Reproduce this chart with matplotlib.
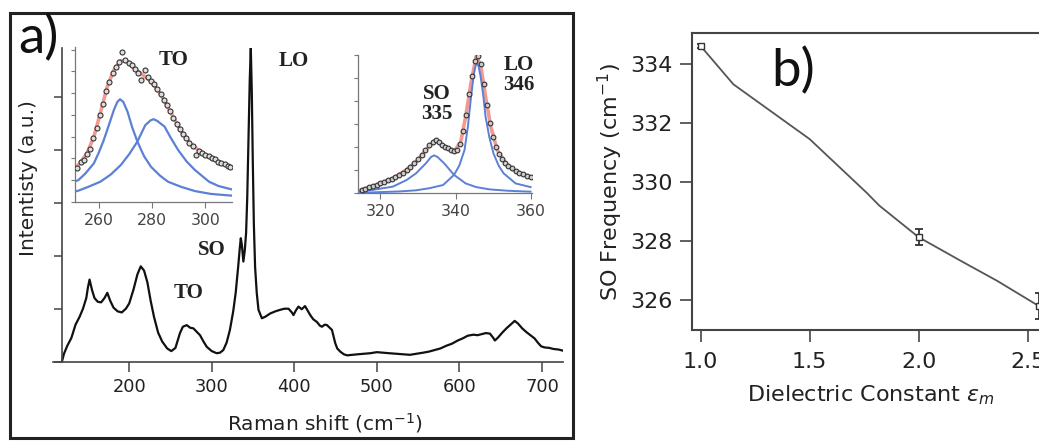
import matplotlib
matplotlib.use("Agg")
import matplotlib.pyplot as plt
from matplotlib.patches import Rectangle

W, H = 1039, 441

# ---- panel a: main Raman spectrum (shift, intensity in tick units)
raman_shift = [118.5, 121, 125, 130, 135, 140, 144, 148, 150, 152, 155, 158, 162, 166,
               170, 173.5, 177, 181, 186, 191, 196, 200, 205, 210, 214, 218, 222, 226,
               230, 235, 240, 246, 251, 256, 261.5, 265, 269.7, 274, 277.7, 282, 285.8,
               290, 294, 300, 306, 310, 314, 318, 322, 326, 329, 332, 334, 335.2, 336.5,
               338.3, 340, 341.6, 343, 344.5, 346, 347.3, 348.5, 349.7, 351, 352.5, 354.5,
               356.6, 360.7, 365, 370.8, 377, 383, 388, 393, 397, 399, 402, 405, 409, 413,
               416, 419.3, 423, 427.4, 431, 433.5, 437, 439.6, 443, 445.6, 447.5, 449.6,
               452, 455.7, 460, 464, 470, 477, 484, 492, 500, 507, 515, 523, 531, 540,
               548, 556, 563, 570, 577, 584, 591, 598, 604, 610, 617, 622, 627, 632, 637,
               641, 643, 647, 652, 657, 662, 667, 671, 676, 681, 686, 691, 695, 699, 703,
               709, 714, 720, 725]
intensity = [0.0, 0.15, 0.3, 0.45, 0.7, 0.85, 1.0, 1.2, 1.4, 1.55, 1.35, 1.2, 1.13, 1.12,
             1.2, 1.3, 1.15, 1.02, 0.95, 0.93, 1.0, 1.1, 1.35, 1.65, 1.8, 1.72, 1.5, 1.15,
             0.85, 0.55, 0.38, 0.25, 0.2, 0.26, 0.54, 0.66, 0.69, 0.64, 0.63, 0.56, 0.5,
             0.38, 0.28, 0.2, 0.16, 0.17, 0.22, 0.36, 0.6, 0.95, 1.3, 1.79, 2.15, 2.33, 2.2,
             1.89, 2.1, 2.43, 3.1, 4.2, 5.3, 5.92, 5.1, 3.8, 2.6, 1.79, 1.3,
             0.98, 0.82, 0.85, 0.91, 0.95, 0.98, 1.0, 1.0, 0.93, 0.88, 0.97, 1.04, 0.99, 1.05,
             0.97, 0.88, 0.8, 0.75, 0.68, 0.66, 0.7, 0.69, 0.64, 0.6, 0.48, 0.35,
             0.25, 0.19, 0.14, 0.12, 0.13, 0.14, 0.15, 0.16, 0.18, 0.17, 0.16, 0.15, 0.14, 0.13,
             0.15, 0.17, 0.19, 0.22, 0.25, 0.3, 0.34, 0.4, 0.44, 0.49, 0.51, 0.5, 0.52, 0.54, 0.53,
             0.45, 0.4, 0.46, 0.55, 0.63, 0.7, 0.77, 0.72, 0.63, 0.56, 0.5, 0.44, 0.36, 0.29, 0.27,
             0.26, 0.24, 0.23, 0.21]
main_xticks = [200, 300, 400, 500, 600, 700]
main_yticks = [0, 1, 2, 3, 4, 5]

# ---- inset 1: TO region
to_data_x = [252.0, 253.2, 254.4, 255.6, 256.8, 258.0, 259.2, 260.4, 261.6, 262.8, 264.0,
             265.2, 266.4, 267.6, 268.8, 270.0, 271.2, 272.4, 273.6, 274.8, 276.0, 277.2,
             278.4, 279.6, 280.8, 282.0, 283.2, 284.4, 285.6, 286.8, 288.0, 289.2, 290.4,
             291.6, 292.8, 294.0, 295.2, 296.4, 297.6, 298.8, 300.0, 301.2, 302.4, 303.6,
             304.8, 306.0, 307.2, 308.4, 309.4]
to_data_y = [1.55, 1.85, 1.9, 2.2, 2.45, 2.95, 3.4, 4.0, 4.5, 5.1, 5.5, 5.95, 6.2, 6.45,
             6.9, 6.55, 6.4, 6.3, 6.1, 5.95, 5.6, 6.05, 5.75, 5.55, 5.4, 5.2, 4.95, 4.7,
             4.45, 4.2, 3.85, 3.6, 3.35, 3.1, 2.95, 2.7, 2.55, 2.15, 2.35, 2.25, 2.15, 2.1,
             2.0, 1.95, 1.85, 1.78, 1.72, 1.65, 1.6]
to_fit_x = [251.5, 252.4, 255.6, 258.2, 260.6, 263.2, 265.7, 268.3, 270.8, 273.3, 276.5,
            279.6, 283.4, 287.2, 291.0, 294.9, 300.0, 305.0, 309.8]
to_fit_y = [1.6, 1.69, 2.23, 3.0, 4.07, 5.3, 6.07, 6.5, 6.45, 6.15, 5.84,
            5.53, 4.92, 4.07, 3.23, 2.61, 2.15, 1.84, 1.61]
to_p1_x = [251.5, 252.4, 255.0, 258.2, 260.0, 261.9, 264.0, 265.7, 267.0, 268.0, 269.2,
           270.8, 272.5, 274.5, 277.0, 279.6, 283.0, 286.0, 291.0, 296.1, 302.0, 309.8]
to_p1_y = [0.95, 1.0, 1.3, 1.77, 2.25, 2.84, 3.6, 4.23, 4.6, 4.72, 4.6,
           4.15, 3.45, 2.77, 2.1, 1.61, 1.2, 0.92, 0.68, 0.49, 0.36, 0.28]
to_p2_x = [251.5, 252.4, 256.0, 260.6, 264.5, 268.3, 271.5, 274.5, 277.5, 279.5, 280.6,
           282.0, 284.7, 287.0, 289.8, 293.0, 296.1, 301.4, 305.0, 309.8]
to_p2_y = [0.48, 0.51, 0.68, 0.92, 1.25, 1.69, 2.2, 2.77, 3.53, 3.75, 3.8,
           3.72, 3.46, 2.95, 2.38, 1.85, 1.46, 0.92, 0.72, 0.57]

# ---- inset 2: SO / LO region
so_data_x = [315.0, 316.0, 317.0, 318.0, 319.0, 320.0, 321.0, 322.0, 323.0, 324.0, 325.0,
             326.0, 327.0, 328.0, 329.0, 330.0, 331.0, 332.0, 333.0, 334.0, 334.8, 335.6,
             336.4, 337.2, 338.0, 338.8, 339.6, 340.4, 341.2, 342.0, 342.8, 343.6, 344.4,
             345.2, 346.0, 346.8, 347.6, 348.4, 349.2, 350.0, 350.8, 351.6, 352.4, 353.2,
             354.0, 355.0, 356.0, 357.0, 358.0, 359.0, 360.0]
so_data_y = [0.15, 0.2, 0.26, 0.32, 0.38, 0.44, 0.5, 0.56, 0.63, 0.7, 0.79,
             0.9, 1.02, 1.15, 1.3, 1.47, 1.65, 1.88, 2.08, 2.25, 2.32, 2.25,
             2.12, 2.03, 1.95, 1.87, 1.82, 1.9, 2.15, 2.7, 3.4, 4.3, 5.1,
             5.75, 5.95, 5.6, 4.75, 3.85, 3.05, 2.45, 2.0, 1.7, 1.5, 1.33,
             1.2, 1.08, 0.97, 0.9, 0.83, 0.77, 0.72]
so_fit_x = [314.3, 318.8, 323.3, 326.8, 329.5, 332.1, 334.6, 337.0, 339.6, 341.4, 342.7,
            344.1, 345.5, 346.7, 348.0, 349.4, 351.1, 353.4, 356.0, 360.0]
so_fit_y = [0.12, 0.36, 0.65, 1.01, 1.37, 1.88, 2.32, 2.06, 1.81, 2.24, 3.33,
            4.78, 5.94, 5.58, 4.2, 2.9, 1.88, 1.3, 0.94, 0.72]
so_p1_x = [314.3, 318.0, 323.3, 327.0, 329.5, 332.1, 333.5, 334.3, 335.2, 337.0, 339.6,
           342.7, 345.5, 349.1, 354.0, 360.0]
so_p1_y = [0.07, 0.15, 0.29, 0.58, 0.87, 1.3, 1.58, 1.65, 1.58, 1.3, 0.8,
           0.43, 0.27, 0.17, 0.11, 0.07]
so_p2_x = [314.3, 325.0, 329.5, 333.0, 336.7, 339.6, 341.0, 342.4, 343.3, 344.1, 344.9,
           345.5, 346.1, 346.7, 347.4, 348.0, 349.0, 350.1, 351.5, 352.8, 356.0, 360.0]
so_p2_y = [0.02, 0.08, 0.13, 0.22, 0.36, 0.8, 1.2, 1.88, 2.9, 4.13, 5.2,
           5.65, 5.55, 5.07, 4.25, 3.33, 2.45, 1.74, 1.2, 0.87, 0.43, 0.27]

# ---- panel b: SO frequency vs dielectric constant
eps_curve = [1.0, 1.15, 1.5, 1.76, 1.82, 2.0, 2.2, 2.36, 2.55]
freq_curve = [334.62, 333.32, 331.46, 329.65, 329.2, 328.13, 327.3, 326.65, 325.8]
eps_pts = [1.0, 2.0, 2.55]
freq_pts = [334.62, 328.13, 325.8]
freq_err = [0.06, 0.28, 0.45]
b_xticks = [1.0, 1.5, 2.0, 2.5]
b_yticks = [326, 328, 330, 332, 334]


def box(l, t, r, b):
    # pixel box -> figure fraction [left, bottom, width, height]
    return [l / W, 1 - b / H, (r - l) / W, (b - t) / H]


fig = plt.figure(figsize=(W / 100, H / 100), dpi=100)
plt.rcParams['font.family'] = ['DejaVu Sans']

# panel a frame
fig.add_artist(Rectangle((10 / W, 1 - 438 / H), 563.3 / W, 425.5 / H, transform=fig.transFigure,
                         fill=False, lw=2.2, ec='#222222'))

# main axes
ax = fig.add_axes(box(53, 48, 562.6, 361.7))
ax.plot(raman_shift, intensity, color='#111111', lw=1.6)
ax.set_xlim(107.7, 725)
ax.set_ylim(0, 5.92)
ax.spines['left'].set_position(('data', 118.2))
for s in ['top', 'right']:
    ax.spines[s].set_visible(False)
for s in ['left', 'bottom']:
    ax.spines[s].set_color('#444444')
    ax.spines[s].set_linewidth(1.2)
ax.set_xticks(main_xticks)
ax.set_yticks(main_yticks)
ax.set_yticklabels([])
ax.tick_params(axis='x', direction='out', length=7, width=1.1, color='#444444',
               labelsize=12.8, pad=5, labelcolor='#222222')
ax.tick_params(axis='y', direction='out', length=6, width=1.1, color='#444444')
ax.set_facecolor('none')
ax.set_xlabel('Raman shift (cm$^{-1}$)', fontsize=14.5, color='#222222')
ax.xaxis.set_label_coords((325 - 53) / 509.6, (361.7 - 423) / 313.7)
ax.xaxis.label.set_va('center')
ax.set_ylabel('Intentisty (a.u.)', fontsize=14.5, color='#222222')
ax.yaxis.set_label_coords((29 - 53) / 509.6, (361.7 - 178) / 313.7)
ax.yaxis.label.set_va('center')


def style_inset(a, yt):
    for s in ['top', 'right']:
        a.spines[s].set_visible(False)
    for s in ['left', 'bottom']:
        a.spines[s].set_color('#777777')
        a.spines[s].set_linewidth(0.9)
    a.set_yticks(yt)
    a.set_yticklabels([])
    a.tick_params(axis='y', direction='out', length=3, width=0.8, color='#777777')
    a.tick_params(axis='x', direction='out', length=4, width=0.8, color='#777777',
                  labelsize=11.3, labelcolor='#444444', pad=4)
    a.set_facecolor('none')


red = '#f29a92'
blue = '#5b80d6'

ax1 = fig.add_axes(box(75, 46.7, 231.7, 201.7))
ax1.plot(to_fit_x, to_fit_y, color=red, lw=2.6, zorder=2)
ax1.plot(to_p1_x, to_p1_y, color=blue, lw=1.6, zorder=3)
ax1.plot(to_p2_x, to_p2_y, color=blue, lw=1.6, zorder=3)
ax1.plot(to_data_x, to_data_y, ls='none', marker='o', ms=3.6, mfc='#dddddd', mec='#333333',
         mew=0.8, zorder=4)
ax1.set_xlim(251.1, 309.9)
ax1.set_ylim(0, 7.14)
ax1.set_xticks([260, 280, 300])
style_inset(ax1, range(8))

ax2 = fig.add_axes(box(358.3, 55, 531.7, 193.3))
ax2.plot(so_fit_x, so_fit_y, color=red, lw=2.6, zorder=2)
ax2.plot(so_p1_x, so_p1_y, color=blue, lw=1.4, zorder=3)
ax2.plot(so_p2_x, so_p2_y, color=blue, lw=1.4, zorder=3)
ax2.plot(so_data_x, so_data_y, ls='none', marker='o', ms=3.4, mfc='#cccccc', mec='#333333',
         mew=0.8, zorder=4)
ax2.set_xlim(314.1, 360.3)
ax2.set_ylim(0, 6.01)
ax2.set_xticks([320, 340, 360])
style_inset(ax2, range(7))

# peak labels
serif = dict(family='Liberation Serif', fontweight='bold', fontsize=15, color='#222222',
             ha='center', va='center', linespacing=0.95)
fig.text(174 / W, 1 - 60 / H, 'TO', **serif)
fig.text(293.5 / W, 1 - 61.5 / H, 'LO', **serif)
fig.text(437 / W, 1 - 104 / H, 'SO\n335', **serif)
fig.text(519 / W, 1 - 75 / H, 'LO\n346', **serif)
fig.text(211.5 / W, 1 - 250 / H, 'SO', **serif)
fig.text(188.5 / W, 1 - 292.5 / H, 'TO', **serif)

fig.text(18 / W, 1 - 53 / H, 'a)', family='Lato', fontsize=38, color='#111111', va='baseline')

# panel b
bx = fig.add_axes(box(691.7, 33.3, 691.7 + 379.5, 330))
bx.plot(eps_curve, freq_curve, color='#555555', lw=1.3)
bx.errorbar(eps_pts, freq_pts, yerr=freq_err, fmt='s', ms=4, mfc='white', mec='#333333',
            ecolor='#333333', elinewidth=1.3, capsize=3, capthick=1.3, zorder=3)
bx.set_xlim(0.959, 2.7)
bx.set_ylim(324.98, 335.05)
bx.set_xticks(b_xticks)
bx.set_xticklabels(['1.0', '1.5', '2.0', '2.5'])
bx.set_yticks(b_yticks)
for s in bx.spines.values():
    s.set_color('#444444')
    s.set_linewidth(1.5)
bx.tick_params(axis='both', direction='out', length=8.5, width=1.2, color='#444444',
               labelsize=16, labelcolor='#222222')
bx.tick_params(axis='x', pad=7)
bx.tick_params(axis='y', pad=5)
bx.set_xlabel('Dielectric Constant $\\varepsilon_m$', fontsize=16, color='#222222')
bx.xaxis.set_label_coords((871 - 691.7) / 379.5, (330 - 395) / 296.7)
bx.xaxis.label.set_va('center')
bx.set_ylabel('SO Frequency (cm$^{-1}$)', fontsize=16, color='#222222')
bx.yaxis.set_label_coords((610 - 691.7) / 379.5, 0.5)
bx.yaxis.label.set_va('center')
fig.text(771.7 / W, 1 - 86.7 / H, 'b)', family='Lato', fontsize=38, color='#111111',
         va='baseline')

fig.savefig('out.png', dpi=100)
